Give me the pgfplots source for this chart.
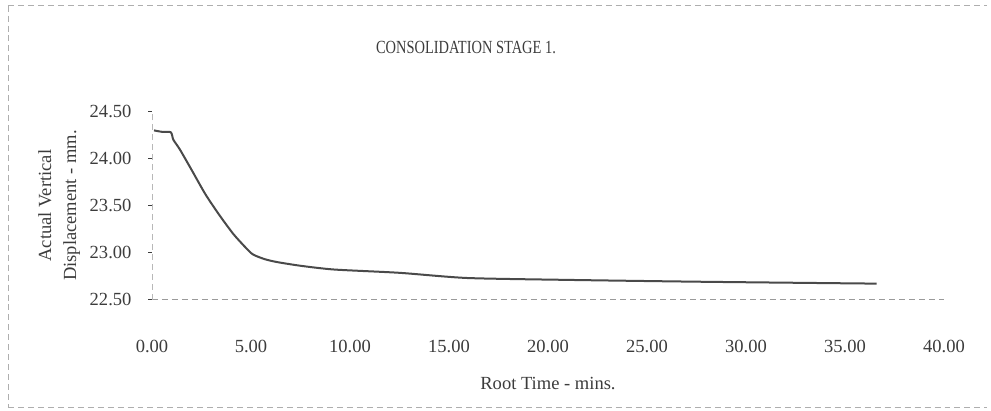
\documentclass[border=0pt]{standalone}
\usepackage{fontspec}
\setmainfont{Liberation Serif}
\newfontfamily\titlefont[FakeStretch=0.78]{Liberation Serif}
\usepackage{pgfplots}
\pgfplotsset{compat=1.18}
\definecolor{txt}{HTML}{3C3C3C}
\definecolor{curve}{HTML}{4A4A4A}
\definecolor{axl}{HTML}{9A9A9A}
\begin{document}
\fontsize{9.3}{10}\selectfont
\begin{tikzpicture}
\begin{axis}[
    name=ax,
    scale only axis,
    width=396bp, height=94bp,
    xmin=0, xmax=40, ymin=22.5, ymax=24.5,
    axis x line*=bottom, axis y line*=left,
    x axis line style={axl, densely dashed, -},
    y axis line style={axl!70, densely dashed, -},
    xtick={0,5,...,40}, ytick={22.5,23,...,24.5},
    xtick style={draw=none},
    ytick style={txt, thin},
    tick align=outside, major tick length=2bp,
    /pgf/number format/.cd, fixed, fixed zerofill, precision=2, assume math mode=true,
    /pgfplots/.cd,
    ticklabel style={text=txt, font=\fontsize{9.3}{10}\selectfont},
    xticklabel style={yshift=-15bp},
    yticklabel style={xshift=-5bp},
    xlabel={Root Time - mins.},
    xlabel style={text=txt, font=\fontsize{9.3}{10}\selectfont, yshift=-6bp},
    ylabel={Actual Vertical\\Displacement - mm.},
    ylabel style={text=txt, align=center, font=\fontsize{9.3}{12.5}\selectfont, yshift=-1.5bp},
    clip=false,
]
\addplot[curve, line width=1bp, line join=round, smooth, tension=0.4] coordinates {
(0.10,24.30) (0.50,24.285) (0.95,24.28) (1.08,24.20) (1.40,24.10) (2.00,23.88)
(2.70,23.62) (3.40,23.40) (4.10,23.20) (4.70,23.06) (5.10,22.98) (5.70,22.93)
(6.30,22.90) (7.50,22.86) (9.20,22.82) (12.5,22.785) (15.9,22.73) (20.9,22.71)
(27.7,22.69) (36.6,22.67)
};
\end{axis}
\node[text=txt, font=\titlefont\fontsize{9.3}{10}\selectfont] at ([xshift=157bp,yshift=32bp]ax.north west) {CONSOLIDATION STAGE 1.};
\draw[axl!80, densely dashed, thin] ([xshift=-72bp,yshift=53bp]ax.north west) -- ([xshift=21.5bp,yshift=53bp]ax.north east);
\draw[axl!80, densely dashed, thin] ([xshift=-72bp,yshift=53bp]ax.north west) -- ([xshift=-72bp,yshift=-54bp]ax.south west);
\draw[axl!80, densely dashed, thin] ([xshift=-72bp,yshift=-54bp]ax.south west) -- ([xshift=21.5bp,yshift=-54bp]ax.south east);
\path[use as bounding box] ([xshift=-76bp,yshift=-55.5bp]ax.south west) rectangle ([xshift=23.5bp,yshift=55.8bp]ax.north east);
\end{tikzpicture}
\end{document}
